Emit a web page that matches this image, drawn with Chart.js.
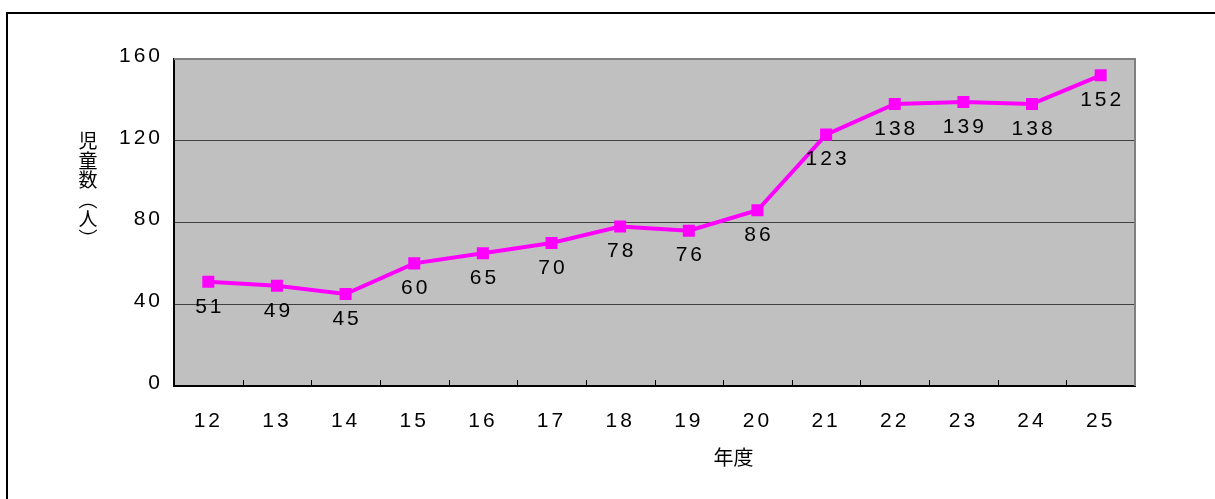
<!DOCTYPE html>
<html>
<head>
<meta charset="utf-8">
<script src="https://cdn.jsdelivr.net/npm/chart.js@4"></script>
<style>
body { margin: 0; background: #fff; }
</style>
</head>
<body>
<canvas id="chart" width="1215" height="499"></canvas>
<script>
// データ
const years = ['12', '13', '14', '15', '16', '17', '18', '19', '20', '21', '22', '23', '24', '25'];
const children = [51, 49, 45, 60, 65, 70, 78, 76, 86, 123, 138, 139, 138, 152];
const yMin = 0;
const yMax = 160;
const yStep = 40;
const yTitle = ['児', '童', '数', '︵', '人', '︶'];
const xTitle = '年度';

const numFont = '"Liberation Sans", Arial, sans-serif';
const jpFont = '"Noto Sans CJK JP", sans-serif';
const spacing = 3;

// 枠・背景・タイトル・ラベル
const decor = {
    id: 'decor',
    beforeDraw(chart) {
        const ctx = chart.ctx;
        const a = chart.chartArea;
        ctx.letterSpacing = spacing + 'px';
        ctx.save();
        ctx.fillStyle = '#c0c0c0';
        ctx.fillRect(a.left, a.top, a.right - a.left, a.bottom - a.top);
        // 外枠
        ctx.strokeStyle = '#000';
        ctx.lineWidth = 2;
        ctx.beginPath();
        ctx.moveTo(7, chart.height + 5);
        ctx.lineTo(7, 13);
        ctx.lineTo(chart.width + 5, 13);
        ctx.stroke();
        ctx.restore();
    },
    beforeDatasetsDraw(chart) {
        const ctx = chart.ctx;
        const a = chart.chartArea;
        const x = chart.scales.x;
        ctx.save();
        // 上・右の枠線
        ctx.strokeStyle = '#808080';
        ctx.lineWidth = 2;
        ctx.beginPath();
        ctx.moveTo(a.left, a.top);
        ctx.lineTo(a.right, a.top);
        ctx.lineTo(a.right, a.bottom);
        ctx.stroke();
        // 内向きの目盛り
        ctx.strokeStyle = '#000';
        ctx.lineWidth = 1;
        ctx.beginPath();
        for (let i = 1; i < years.length; i++) {
            const px = Math.round((x.getPixelForValue(i - 1) + x.getPixelForValue(i)) / 2) + 0.5;
            ctx.moveTo(px, a.bottom);
            ctx.lineTo(px, a.bottom - 6);
        }
        ctx.stroke();
        ctx.restore();
    },
    afterDatasetsDraw(chart) {
        const ctx = chart.ctx;
        const meta = chart.getDatasetMeta(0);
        ctx.save();
        ctx.letterSpacing = spacing + 'px';
        ctx.font = '21px ' + numFont;
        ctx.fillStyle = '#000';
        ctx.textAlign = 'center';
        ctx.textBaseline = 'middle';
        meta.data.forEach((pt, i) => {
            ctx.fillText(String(children[i]), pt.x + spacing / 2, pt.y + 25);
        });
        ctx.restore();

        // 軸タイトル
        const a = chart.chartArea;
        ctx.save();
        ctx.letterSpacing = '0px';
        ctx.fillStyle = '#000';
        ctx.font = '20px ' + jpFont;
        ctx.textAlign = 'center';
        ctx.textBaseline = 'middle';
        ctx.fillText(xTitle, (a.left + a.right) / 2 + 79, 457);
        ctx.font = '19px ' + jpFont;
        yTitle.forEach((ch, i) => {
            ctx.fillText(ch, 88, 141 + i * 19.5);
        });
        ctx.restore();
    }
};

new Chart(document.getElementById('chart'), {
    type: 'line',
    data: {
        labels: years,
        datasets: [{
            data: children,
            borderColor: '#ff00ff',
            backgroundColor: '#ff00ff',
            borderWidth: 4,
            pointStyle: 'rect',
            pointRadius: 8.5,
            pointBorderWidth: 0,
            tension: 0
        }]
    },
    options: {
        responsive: false,
        animation: false,
        devicePixelRatio: 1,
        layout: { padding: { left: 0, right: 80, top: 59, bottom: 0 } },
        plugins: {
            legend: { display: false },
            tooltip: { enabled: false }
        },
        scales: {
            x: {
                offset: true,
                grid: { display: false, drawTicks: false },
                border: { color: '#000', width: 2 },
                ticks: {
                    color: '#000',
                    font: { family: numFont, size: 21 },
                    padding: 23,
                    maxRotation: 0,
                    autoSkip: false
                },
                afterFit(scale) { scale.height = 113; }
            },
            y: {
                min: yMin,
                max: yMax,
                grid: { color: '#404040', lineWidth: 1, drawTicks: false },
                border: { color: '#000', width: 2 },
                ticks: {
                    stepSize: yStep,
                    color: '#000',
                    font: { family: numFont, size: 21 },
                    padding: 11,
                    labelOffset: -3
                },
                afterFit(scale) { scale.width = 174; }
            }
        }
    },
    plugins: [decor]
});
</script>
</body>
</html>
